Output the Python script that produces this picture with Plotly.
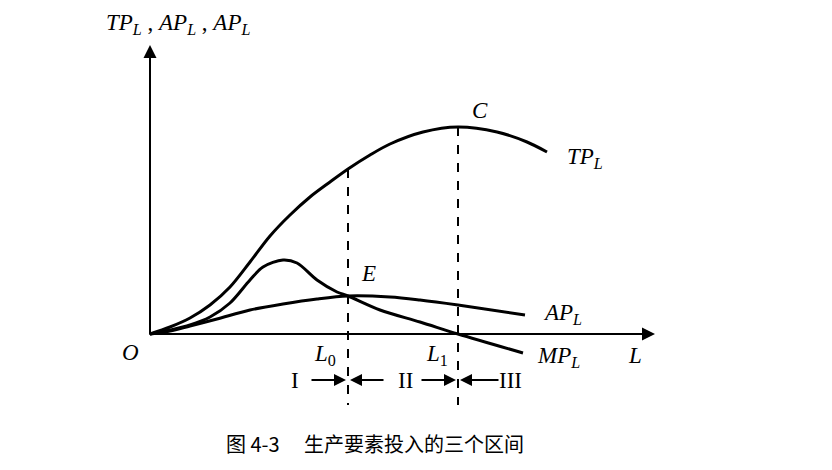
import plotly.graph_objects as go

# 曲线数据（横轴 L，纵轴 产量，任意单位）
tp_l = [0, 2, 4, 6, 8, 10, 12, 14, 16, 18, 19.8, 22, 24, 27.3, 30.8, 34.7, 37.7, 39.7]
tp_q = [0, 0.7, 1.6, 2.9, 4.7, 7.2, 9.8, 11.9, 13.7, 15.2, 16.5, 17.9, 19.0, 20.2, 20.7, 20.2, 19.2, 18.2]

mp_l = [0, 2, 4, 6, 8, 10, 11.3, 13.3, 14.7, 16.7, 18.7, 19.8, 23, 27, 30.8, 37.3]
mp_q = [0, 0.4, 0.9, 1.7, 3.1, 5.4, 6.7, 7.4, 7.1, 5.4, 4.2, 3.8, 2.4, 1.2, 0, -1.9]

ap_l = [0, 2, 4, 6.7, 10, 13.3, 16.7, 19.8, 24, 27, 30.8, 37.5]
ap_q = [0, 0.3, 0.8, 1.5, 2.4, 3.0, 3.5, 3.8, 3.7, 3.4, 2.9, 1.9]

L0, L1 = 19.8, 30.8
TP_L0, TP_L1 = 16.5, 20.7
X_END, Y_END = 50.5, 28.9
STAGES = ["I", "II", "III"]
CAPTION = "图 4-3　 生产要素投入的三个区间"

SERIF = "Liberation Serif"
BLACK = "#000000"

fig = go.Figure()
for xs, ys in [(tp_l, tp_q), (mp_l, mp_q), (ap_l, ap_q)]:
    fig.add_trace(go.Scatter(x=xs, y=ys, mode="lines",
                             line=dict(color=BLACK, width=3, shape="spline", smoothing=0.9,
                                       simplify=False),
                             showlegend=False, hoverinfo="skip"))

# 虚线
for lx, top in [(L0, TP_L0), (L1, TP_L1)]:
    fig.add_shape(type="line", x0=lx, x1=lx, y0=top, y1=-7.1,
                  line=dict(color=BLACK, width=2, dash="dash"))

annotations = []
# 坐标轴箭头
annotations.append(dict(x=0, y=Y_END, ax=0, ay=-0.2, xref="x", yref="y", axref="x", ayref="y",
                        showarrow=True, arrowhead=2, arrowsize=1.3, arrowwidth=2, arrowcolor=BLACK, text=""))
annotations.append(dict(x=X_END, y=0, ax=-0.2, ay=0, xref="x", yref="y", axref="x", ayref="y",
                        showarrow=True, arrowhead=2, arrowsize=1.3, arrowwidth=2, arrowcolor=BLACK, text=""))

# 区间箭头
arrow_y = -4.6
for x_from, x_to in [(16.0, L0 - 0.2), (23.5, L0 + 0.2), (27.0, L1 - 0.2), (35.0, L1 + 0.2)]:
    annotations.append(dict(x=x_to, y=arrow_y, ax=x_from, ay=arrow_y, xref="x", yref="y",
                            axref="x", ayref="y", showarrow=True, arrowhead=2, arrowsize=1.2,
                            arrowwidth=2, arrowcolor=BLACK, text=""))
for txt, xx in zip(STAGES, [14.5, 25.5, 36.0]):
    annotations.append(dict(x=xx, y=arrow_y, text=txt, showarrow=False,
                            font=dict(family=SERIF, size=23, color=BLACK)))

labels = [
    ("<i>O</i>", -2.0, -1.8),
    ("<i>L</i><sub>0</sub>", 17.5, -2.1),
    ("<i>L</i><sub>1</sub>", 28.7, -2.1),
    ("<i>L</i>", 48.5, -2.1),
    ("<i>MP</i><sub><i>L</i></sub>", 40.8, -2.3),
    ("<i>AP</i><sub><i>L</i></sub>", 41.2, 2.0),
    ("<i>TP</i><sub><i>L</i></sub>", 43.5, 17.6),
    ("<i>C</i>", 33.0, 22.4),
    ("<i>E</i>", 21.8, 6.1),
    ("<i>TP</i><sub><i>L</i></sub> , <i>AP</i><sub><i>L</i></sub> , <i>AP</i><sub><i>L</i></sub>", 2.8, 31.0),
]
for txt, xx, yy in labels:
    annotations.append(dict(x=xx, y=yy, text=txt, showarrow=False,
                            font=dict(family=SERIF, size=23, color=BLACK)))

annotations.append(dict(x=22.5, y=-10.9, text=CAPTION, showarrow=False,
                        font=dict(family="Noto Sans CJK SC", size=20, color=BLACK)))

# 页面 body 有 8px 边距，范围相应平移
fig.update_layout(
    width=832, height=470,
    margin=dict(l=0, r=0, t=0, b=0),
    paper_bgcolor="white", plot_bgcolor="white",
    xaxis=dict(range=[-14.2, 69.0], visible=False, fixedrange=True),
    yaxis=dict(range=[-14.4, 32.6], visible=False, fixedrange=True),
    annotations=annotations,
    showlegend=False,
)

fig.write_html("out.html")
